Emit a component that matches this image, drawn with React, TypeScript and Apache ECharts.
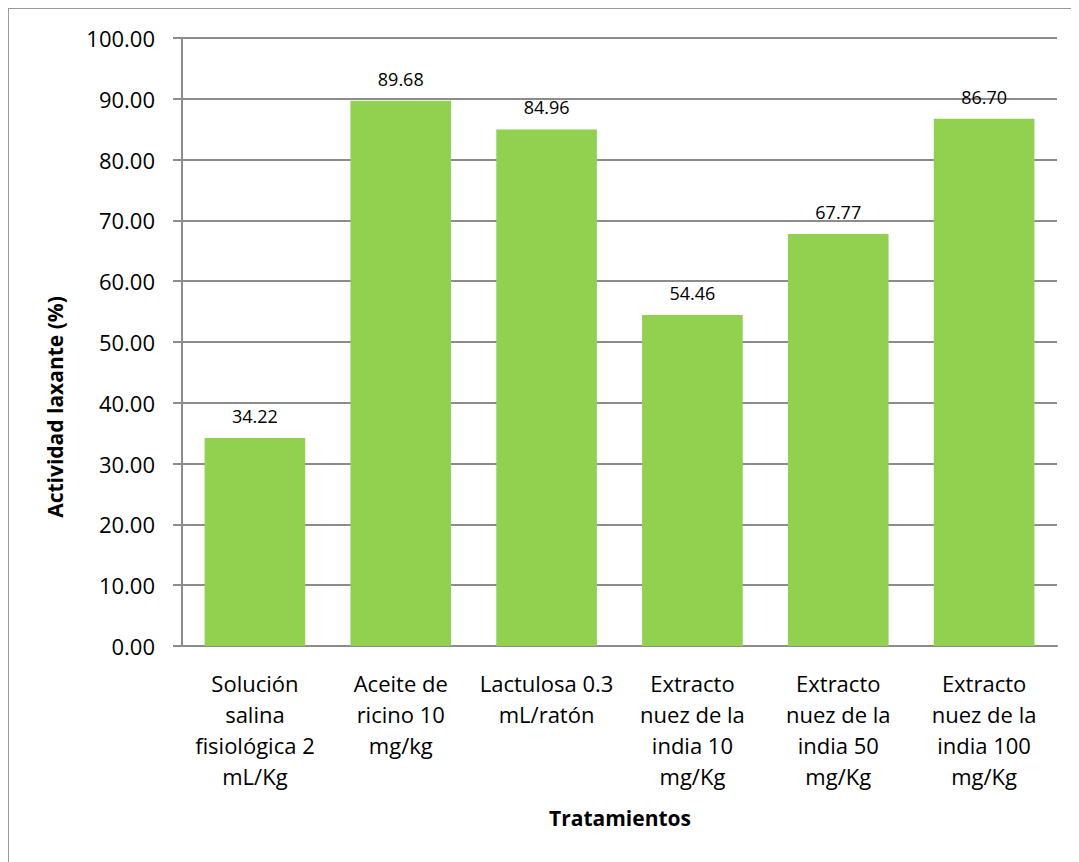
import React, { useEffect, useRef } from "react";
import * as echarts from "echarts";

const categories: string[] = [
  "Solución\nsalina\nfisiológica 2\nmL/Kg",
  "Aceite de\nricino 10\nmg/kg",
  "Lactulosa 0.3\nmL/ratón",
  "Extracto\nnuez de la\nindia 10\nmg/Kg",
  "Extracto\nnuez de la\nindia 50\nmg/Kg",
  "Extracto\nnuez de la\nindia 100\nmg/Kg",
];
const values: number[] = [34.22, 89.68, 84.96, 54.46, 67.77, 86.7];
const yAxisTitle = "Actividad laxante (%)";
const xAxisTitle = "Tratamientos";

const FONT = "'Open Sans', 'Noto Sans', sans-serif";
const GRID_COLOR = "#8c8c8c";

export default function App() {
  const ref = useRef<HTMLDivElement>(null);
  useEffect(() => {
    if (!ref.current) return;
    const chart = echarts.init(ref.current, undefined, { renderer: "svg" });
    chart.setOption({
      animation: false,
      backgroundColor: "#ffffff",
      textStyle: { fontFamily: FONT },
      grid: { left: 173, top: 29, right: 22, bottom: 216, containLabel: false },
      xAxis: {
        type: "category",
        data: categories,
        axisLine: { show: true, lineStyle: { color: GRID_COLOR, width: 2 } },
        axisTick: { show: false },
        axisLabel: {
          color: "#000",
          fontSize: 22,
          lineHeight: 31,
          margin: 21,
          interval: 0,
          fontFamily: FONT,
          align: "center",
        },
      },
      yAxis: {
        type: "value",
        min: 0,
        max: 100,
        interval: 10,
        axisLine: { show: true, lineStyle: { color: GRID_COLOR, width: 2 } },
        axisTick: { show: true, inside: false, length: 9, lineStyle: { color: GRID_COLOR, width: 2 } },
        splitLine: { show: true, lineStyle: { color: GRID_COLOR, width: 2 } },
        axisLabel: {
          color: "#000",
          fontSize: 22,
          margin: 27,
          fontFamily: FONT,
          formatter: (v: number) => v.toFixed(2),
        },
      },
      series: [
        {
          type: "bar",
          data: values,
          barCategoryGap: "31%",
          itemStyle: { color: "#92D050" },
          label: {
            show: true,
            position: "top",
            distance: 13,
            color: "#000",
            fontSize: 18,
            fontFamily: FONT,
            formatter: (p: any) => Number(p.value).toFixed(2),
          },
        },
      ],
      graphic: [
        {
          type: "text",
          x: 46,
          y: 398,
          rotation: Math.PI / 2,
          style: {
            text: yAxisTitle,
            fontSize: 21,
            fontWeight: "bold",
            fontFamily: FONT,
            fill: "#000",
            align: "center",
            verticalAlign: "middle",
          },
        },
        {
          type: "text",
          x: 611,
          y: 809,
          style: {
            text: xAxisTitle,
            fontSize: 21,
            fontWeight: "bold",
            fontFamily: FONT,
            fill: "#000",
            align: "center",
            verticalAlign: "middle",
          },
        },
      ],
    });
    return () => chart.dispose();
  }, []);
  return (
    <div style={{ borderLeft: "1px solid #999", borderTop: "1px solid #999", width: 1070, height: 853 }}>
      <div ref={ref} style={{ width: 1070, height: 853 }} />
    </div>
  );
}
